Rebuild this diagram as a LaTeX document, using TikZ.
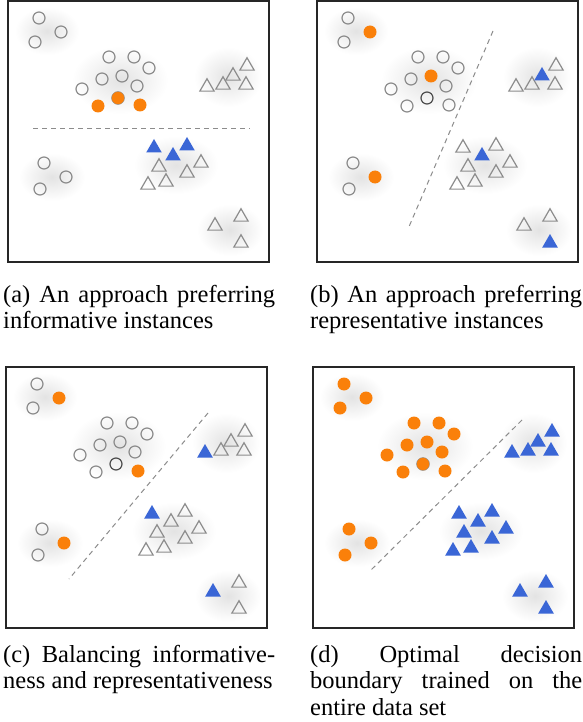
\documentclass[tikz,border=0pt]{standalone}
\usepackage{fontspec}
\setmainfont{Liberation Serif}
\usetikzlibrary{shapes.geometric}
\definecolor{dotorange}{RGB}{250,128,10}
\definecolor{triblue}{RGB}{58,102,214}
\definecolor{ptgray}{RGB}{140,140,140}

\begin{document}
\begin{tikzpicture}[
		x=1pt, y=-1pt,
		hollow/.style={circle,draw=ptgray,line width=1.2pt,minimum size=12pt,inner sep=0pt},
		dark/.style={hollow,draw=black!70},
		dot/.style={circle,fill=dotorange,minimum size=13pt,inner sep=0pt},
		tri/.style={regular polygon,regular polygon sides=3,draw=ptgray,line width=1.2pt,minimum size=16.5pt,inner sep=0pt},
		fulltri/.style={tri,draw=none,fill=triblue,minimum size=18pt},
		blob/.style={inner color=black!11,outer color=white},
		boundary/.style={draw=black!45,line width=1pt,dash pattern=on 5pt off 4pt},
		frame/.style={draw=black!85,line width=1.4pt},
		caption/.style={anchor=north west,text width=272pt,align=justify,inner sep=0pt,
			font=\fontsize{24.5}{26.5}\selectfont}]

		\fill[white] (0,0) rectangle (582,722);
		\useasboundingbox (0,0) rectangle (582,722);

		% clouds and frames, same in every panel
		\foreach \dx/\dy in {0/0,309/0,-2/366,305/366}{
			\begin{scope}[shift={(\dx,\dy)}]
				\shade[blob] (47,31) ellipse [x radius=32, y radius=24];
				\shade[blob] (120,80) ellipse [x radius=48, y radius=34];
				\shade[blob] (228,77) ellipse [x radius=34, y radius=30];
				\shade[blob] (52,177) ellipse [x radius=33, y radius=24];
				\shade[blob] (176,165) ellipse [x radius=42, y radius=29];
				\shade[blob] (230,230) ellipse [x radius=33, y radius=26];
				\draw[frame] (8,1) rectangle (269,262);
			\end{scope}
		}

		% (a) informative
		\coordinate (a1) at (33,129);
		\coordinate (a2) at (250,129);
		\draw[boundary] (a1) -- (a2);
		\foreach \x/\y [count=\i] in {39/18,61/32,35/42,109/57,134/57,149/68,102/79,122/76,137/86,82/89,44/163,66/177,40/189}
			\node[hollow] (a-o\i) at (\x,\y) {};
		\node[dot,draw=ptgray] (a-d1) at (118,98) {};
		\node[dot] (a-d2) at (98,106) {};
		\node[dot] (a-d3) at (140,105) {};
		\foreach \x/\y [count=\i] in {247/66,233/76,207/87,223/85,246/85,159/167,201/163,187/173,148/185,166/182,241/217,215/226,241/243}
			\node[tri] (a-t\i) at (\x,\y) {};
		\node[fulltri] (a-b1) at (154,148) {};
		\node[fulltri] (a-b2) at (187,146) {};
		\node[fulltri] (a-b3) at (173,156) {};

		% (b) representative
		\begin{scope}[shift={(309,0)}]
			\coordinate (b1) at (184,31);
			\coordinate (b2) at (99,229);
			\draw[boundary] (b1) -- (b2);
			\foreach \x/\y [count=\i] in {39/18,35/42,109/57,134/57,149/68,102/79,137/86,82/89,98/106,140/105,44/163,40/189}
				\node[hollow] (b-o\i) at (\x,\y) {};
			\node[dark] (b-k1) at (118,98) {};
			\node[dot] (b-d1) at (61,32) {};
			\node[dot] (b-d2) at (122,76) {};
			\node[dot] (b-d3) at (66,177) {};
			\foreach \x/\y [count=\i] in {247/66,207/87,223/85,246/85,154/148,187/146,159/167,201/163,187/173,148/185,166/182,241/217,215/226}
				\node[tri] (b-t\i) at (\x,\y) {};
			\node[fulltri] (b-b1) at (233,76) {};
			\node[fulltri] (b-b2) at (173,156) {};
			\node[fulltri] (b-b3) at (241,243) {};
		\end{scope}

		% (c) balancing both
		\begin{scope}[shift={(-2,366)}]
			\coordinate (c1) at (210,47);
			\coordinate (c2) at (71,213);
			\draw[boundary] (c1) -- (c2);
			\foreach \x/\y [count=\i] in {39/18,35/42,109/57,134/57,149/68,102/79,122/76,137/86,82/89,98/106,44/163,40/189}
				\node[hollow] (c-o\i) at (\x,\y) {};
			\node[dark] (c-k1) at (118,98) {};
			\node[dot] (c-d1) at (61,32) {};
			\node[dot] (c-d2) at (140,105) {};
			\node[dot] (c-d3) at (66,177) {};
			\foreach \x/\y [count=\i] in {247/66,233/76,223/85,246/85,187/146,173/156,159/167,201/163,187/173,148/185,166/182,241/217,241/243}
				\node[tri] (c-t\i) at (\x,\y) {};
			\node[fulltri] (c-b1) at (207,87) {};
			\node[fulltri] (c-b2) at (154,148) {};
			\node[fulltri] (c-b3) at (215,226) {};
		\end{scope}

		% (d) optimal boundary
		\begin{scope}[shift={(305,366)}]
			\coordinate (d1) at (217,54);
			\coordinate (d2) at (64,206);
			\draw[boundary] (d1) -- (d2);
			\foreach \x/\y [count=\i] in {39/18,61/32,35/42,109/57,134/57,149/68,102/79,122/76,137/86,82/89,98/106,140/105,44/163,66/177,40/189}
				\node[dot] (d-d\i) at (\x,\y) {};
			\node[dot,draw=ptgray] (d-k1) at (118,98) {};
			\foreach \x/\y [count=\i] in {247/66,233/76,207/87,223/85,246/85,154/148,187/146,173/156,159/167,201/163,187/173,148/185,166/182,241/217,215/226,241/243}
				\node[fulltri] (d-b\i) at (\x,\y) {};
		\end{scope}

		\node[caption] (capa) at (3,285) {(a) An approach preferring\linebreak informative instances};
		\node[caption] (capb) at (310,285) {(b) An approach preferring\linebreak representative instances};
		\node[caption] (capc) at (3,645) {(c) Balancing informative-\linebreak ness and representativeness};
		\node[caption] (capd) at (310,645) {(d) Optimal decision\linebreak boundary trained on the\linebreak entire data set};

\end{tikzpicture}
\end{document}
